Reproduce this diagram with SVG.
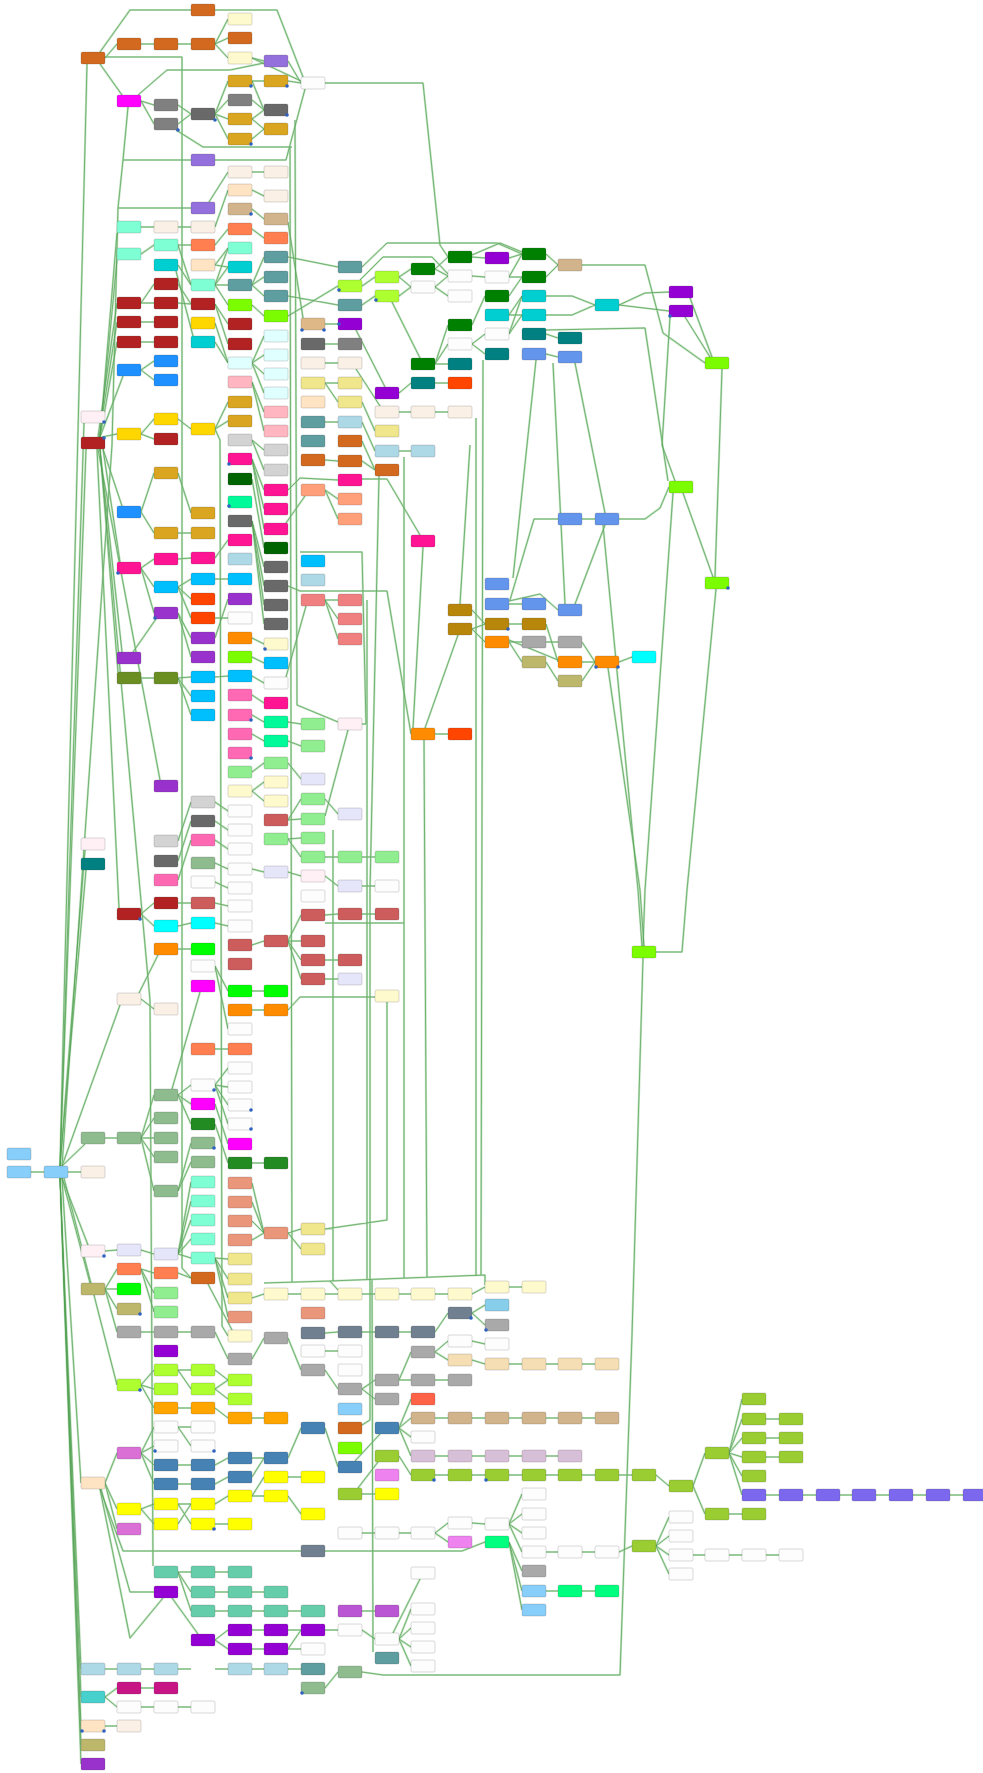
<svg xmlns="http://www.w3.org/2000/svg" xmlns:xlink="http://www.w3.org/1999/xlink" width="983" height="1773" viewBox="0 0 983 1773">
<style>
rect{rx:1.5px;ry:1.5px;stroke:#4a4a4a;stroke-opacity:.35;stroke-width:.6}
.or{fill:#d2691e}.ly{fill:#fffacd}.mp{fill:#9370db}.wh{fill:#fdfdfd}.mg{fill:#f0f}.gy{fill:#808080}.gr{fill:#daa520}.ln{fill:#faf0e6}.bq{fill:#ffe4c4}.tn{fill:#d2b48c}.aq{fill:#7fffd4}.co{fill:#ff7f50}.dt{fill:#00ced1}.cb{fill:#5f9ea0}.fb{fill:#b22222}.lg{fill:#7cfc00}.gd{fill:#ffd700}.bw{fill:#deb887}.dg{fill:#696969}.lc{fill:#e0ffff}.db{fill:#1e90ff}.pk{fill:#ffb6c1}.kh{fill:#f0e68c}.wt{fill:#f5deb3}.lb{fill:#fff0f5}.lgy{fill:#d3d3d3}.dp{fill:#ff1493}.dkg{fill:#006400}.ls{fill:#ffa07a}.sg{fill:#00fa9a}.lbl{fill:#add8e6}.ds{fill:#00bfff}.orr{fill:#ff4500}.do{fill:#9932cc}.lco{fill:#f08080}.dor{fill:#ff8c00}.od{fill:#6b8e23}.hp{fill:#ff69b4}.lgn{fill:#90ee90}.lv{fill:#e6e6fa}.ir{fill:#cd5c5c}.tl{fill:#008080}.dsg{fill:#8fbc8f}.cy{fill:#0ff}.li{fill:#0f0}.fg{fill:#228b22}.ds2{fill:#e9967a}.dkh{fill:#bdb76b}.dgy{fill:#a9a9a9}.slg{fill:#708090}.dv{fill:#9400d3}.gyl{fill:#adff2f}.ora{fill:#ffa500}.sb{fill:#4682b4}.orc{fill:#da70d6}.ye{fill:#ff0}.ma{fill:#66cdaa}.mvr{fill:#c71585}.mt{fill:#48d1cc}.gn{fill:#008000}.cf{fill:#6495ed}.dgr{fill:#b8860b}.tom{fill:#ff6347}.lsb{fill:#87cefa}.yg{fill:#9acd32}.th{fill:#d8bfd8}.vi{fill:#ee82ee}.spg{fill:#00ff7f}.mo{fill:#ba55d3}.msb{fill:#7b68ee}.skb{fill:#87ceeb}
.h{fill:none;stroke:#a6d6a6;stroke-width:2.2;stroke-opacity:.65;stroke-linejoin:round}
.c{fill:none;stroke:#4f9f4f;stroke-width:.8;stroke-opacity:.9;stroke-linejoin:round}
.d{fill:#2f62c0}
</style>
<defs>
<path id="E" d="M105 58L117 44 M141 44L154 44 M178 44L191 44 M215 44L228 19 M215 44L228 38 M215 44L228 58 M252 58L264 61 M288 61L301 83 M252 58L301 81 M215 10L277 10L303 77 M100 52L130 10L191 10 M105 57L182 57L182 1268L191 1278 M100 64L122 95 M141 101L154 105 M141 101L154 124 M178 105L191 114 M178 124L191 114 M176 130L203 147L292 147 M215 114L228 81 M215 114L228 100 M215 114L228 119 M215 114L228 139 M252 81L264 81 M252 100L264 110 M252 119L264 110 M252 119L264 129 M252 139L264 129 M252 81L264 110 M288 81L301 83 M138 95L167 70L230 70L264 63 M325 83L423 83L440 245L448 257 M215 160L286 160L305 89
M62 1166L112 445L118 208L123 160L128 107 M123 160L191 160 M118 208L191 208
M209 202L228 172 M215 227L228 190 M252 172L264 172 M252 190L264 196 M252 209L264 219 M141 227L154 227 M178 227L191 227 M141 254L154 245 M178 245L191 245 M215 245L228 229 M178 245L191 285 M178 265L191 285 M215 265L228 248 M215 265L228 267 M215 285L228 248 M215 285L228 267 M215 285L228 285 M215 285L228 305 M252 285L264 257 M252 285L264 277 M252 285L264 296 M252 305L264 316 M252 229L264 238 M141 303L154 284 M141 303L154 303 M178 303L191 304 M178 284L191 304 M215 304L228 324 M215 304L228 344 M141 322L154 322 M141 342L154 342 M215 323L228 363 M215 342L228 363 M252 363L264 336 M252 363L264 355 M252 363L264 374 M252 363L264 393 M141 370L154 361 M141 370L154 380 M252 382L264 412 M252 382L264 431 M215 429L228 402 M215 429L228 421 M141 434L154 419 M141 434L154 439 M178 419L191 429 M176 271L193 336 M288 222L303 318 M325 324L338 324
M100 437L123 376 M98 437L117 303 M99 437L117 322 M100 437L117 342 M102 437L117 434 M100 437L117 233 M100 437L117 260 M103 449L122 506 M103 449L120 562 M100 449L122 652 M100 449L118 672 M98 449L160 780 M97 449L119 908 M100 449L150 1000L153 1566
M141 512L154 473 M141 512L154 533 M178 533L191 533 M178 473L191 513 M141 568L154 559 M141 568L154 587 M141 568L154 613 M178 559L191 558 M178 587L191 579 M178 587L191 599 M178 587L191 618 M178 613L191 638 M178 613L191 657 M156 619L133 652 M215 558L228 540 M215 579L228 579 M141 678L154 678 M178 678L191 677 M178 678L191 696 M178 678L191 715 M252 715L264 722 M252 734L264 741 M252 772L264 763 M252 791L264 782 M252 791L264 801 M288 820L301 799 M288 820L301 819 M288 839L301 838 M288 839L301 857 M252 869L264 872 M288 872L301 876 M288 741L301 746 M288 722L301 724 M288 763L301 779 M252 695L264 703 M252 440L264 450 M252 440L264 470 M252 459L264 490 M252 459L264 509 M252 459L264 529 M252 479L264 548 M286 523L305 496 M252 521L264 567 M252 521L264 586 M252 521L264 605 M252 521L264 624 M252 638L264 644 M252 657L264 663 M252 676L264 683 M306 606L286 677 M215 638L228 599 M215 618L228 618 M215 677L228 676 M178 841L191 802 M178 861L191 821 M178 880L191 840 M215 802L228 811 M215 821L228 830 M215 840L228 849 M215 863L228 869 M215 882L228 888 M215 429L220 440L222 1326L228 1336
M325 460L338 461 M362 461L375 470 M362 441L375 470 M362 422L375 451 M399 451L411 451 M325 422L338 422 M325 490L338 499 M325 490L338 519 M288 490L300 478L338 480 M325 383L338 383 M325 383L338 402 M362 402L375 431 M325 363L338 363 M325 344L338 344 M288 257L338 267 M288 296L338 305 M288 316L338 286 M325 600L338 600 M325 600L338 619 M325 600L338 639
M362 267L387 243L497 243L522 254 M362 286L375 277 M360 280L383 257L432 257L448 274 M362 305L375 296 M399 277L411 269 M399 277L411 287 M399 296L411 287 M392 302L420 358 M435 269L448 276 M435 287L448 276 M435 287L448 296 M435 269L448 257 M472 257L485 258 M472 255L500 243L522 252 M509 258L522 254 M472 276L485 277 M509 277L522 277 M509 277L522 254 M546 254L558 265 M546 277L558 265 M472 325L485 296 M509 296L522 277 M509 315L522 296 M509 315L522 315 M509 334L522 296 M509 334L522 315 M546 296L572 296L595 305 M546 315L572 315L595 305 M619 305L645 293L669 292 M619 305L669 311 M690 298L712 357 M685 317L710 357 M670 317L662 445L675 481 M722 369L715 577 M683 493L713 577 M673 493L645 890L643 946 M716 589L687 890L682 952L656 952 M582 265L645 265L663 333L705 363 M472 344L485 334 M472 344L485 354 M435 364L448 325 M435 364L448 344 M435 364L448 364 M435 383L448 383 M399 393L411 383 M356 330L385 387 M399 412L411 412 M435 412L448 412 M356 369L380 406 M546 334L558 338 M546 354L558 357 M546 330L645 328L668 481 M536 360L527 445L513 578 M575 363L605 513 M553 363L565 604
M362 479L387 479L420 535 M379 476L370 890L370 1420L362 1425 M423 547L413 728 M435 734L448 734 M509 604L522 604 M509 601L540 594L558 610 M510 600L534 519L558 519 M582 519L595 519 M575 604L605 525 M619 519L645 519L660 508L669 487 M460 604L470 445 M425 728L458 635 M472 610L485 624 M472 629L485 624 M472 629L485 642 M509 624L522 624 M509 642L522 642 M546 642L558 642 M509 642L522 662 M509 640L558 660 M546 624L558 662 M546 662L558 681 M582 642L595 662 M582 662L595 662 M582 681L595 662 M619 662L632 657 M608 668L640 890L644 946 M603 525L638 890L642 946 M288 586L300 591L387 591L411 734 M300 552L362 552L366 724L362 724 M348 730L325 816
M141 914L154 903 M141 914L154 926 M178 903L191 903 M178 926L191 923 M215 903L228 906 M215 923L228 926 M252 945L264 941 M288 941L301 915 M288 941L301 941 M288 941L301 960 M288 941L301 979 M178 949L191 949 M141 999L154 1009 M139 993L158 955 M215 966L228 991 M215 966L228 1029 M252 991L264 991 M252 1010L264 1010 M215 1049L228 1049 M178 1095L191 1085 M178 1095L191 1104 M178 1095L191 1124 M172 1089L200 992 M215 1085L228 1068 M215 1085L228 1087 M215 1085L228 1105 M215 1085L228 1124 M215 1104L228 1144 M215 1124L228 1163 M252 1163L264 1163 M105 1138L117 1138 M141 1138L154 1095 M141 1138L154 1118 M141 1138L154 1138 M141 1138L154 1157 M141 1138L154 1191 M178 1191L191 1143 M178 1191L191 1162 M31 1172L44 1172 M68 1172L81 1172 M105 1251L117 1250 M141 1250L154 1254 M178 1254L191 1182 M178 1254L191 1201 M178 1254L191 1220 M178 1254L191 1239 M178 1254L191 1258 M215 1258L228 1259 M215 1258L228 1279 M215 1258L228 1298 M215 1258L228 1317 M252 1183L264 1233 M252 1202L264 1233 M252 1221L264 1233 M252 1240L264 1233 M288 1233L301 1229 M288 1233L301 1249 M105 1289L117 1269 M105 1289L117 1289 M105 1289L117 1309 M141 1269L154 1273 M141 1269L154 1293 M141 1269L154 1312 M178 1273L191 1278 M208 1284L232 1330 M288 1294L301 1294 M252 1298L264 1294 M325 1294L338 1294 M325 915L338 914 M362 914L375 914 M325 960L338 960 M325 979L338 979 M362 886L375 886 M325 876L338 886 M362 857L375 857 M325 857L338 857 M325 799L338 814 M288 1010L300 997L375 997 M387 1002L387 1220L325 1229 M325 923L404 923
M60 1166L87 64 M60 1166L84 423 M60 1166L86 449 M60 1166L85 850 M60 1166L86 870 M62 1166L85 1144 M62 1166L120 1005 M62 1178L88 1245 M62 1178L90 1283 M62 1178L81 1483 M60 1178L81 1669 M60 1178L81 1697 M60 1178L81 1726 M60 1178L81 1745 M60 1178L81 1764 M64 1178L117 1385
M141 1385L154 1370 M141 1385L154 1389 M141 1385L154 1408 M178 1370L191 1370 M178 1370L191 1389 M215 1370L228 1380 M215 1389L228 1380 M215 1389L228 1399 M178 1408L191 1408 M215 1408L228 1418 M252 1418L264 1418 M105 1483L117 1453 M105 1483L117 1509 M105 1483L117 1529 M100 1489L123 1551L301 1551 M101 1489L130 1592L154 1592 M100 1489L130 1638L163 1598 M141 1453L154 1427 M141 1453L154 1446 M141 1453L154 1465 M141 1453L154 1484 M178 1427L191 1427 M178 1427L191 1446 M178 1465L191 1465 M178 1484L191 1484 M215 1465L228 1458 M252 1458L264 1458 M288 1458L301 1428 M215 1484L228 1477 M252 1477L264 1458 M252 1496L264 1477 M288 1477L301 1477 M252 1496L264 1496 M288 1496L301 1514 M141 1509L154 1504 M141 1509L154 1524 M178 1504L191 1504 M178 1504L191 1524 M178 1524L191 1504 M215 1504L228 1496 M215 1524L228 1524 M178 1572L191 1572 M215 1572L228 1572 M178 1572L191 1592 M215 1592L228 1592 M252 1592L264 1592 M178 1572L191 1611 M215 1611L228 1611 M252 1611L264 1611 M288 1611L301 1611 M172 1598L198 1634 M215 1640L228 1630 M215 1640L228 1649 M252 1630L264 1630 M288 1630L301 1630 M252 1649L264 1649 M288 1649L301 1630 M288 1649L301 1649 M105 1669L117 1669 M141 1669L154 1669 M178 1669L191 1669 M215 1669L228 1669 M252 1669L264 1669 M288 1669L301 1669 M325 1688L338 1672 M105 1697L117 1688 M141 1688L154 1688 M105 1697L117 1707 M141 1707L154 1707 M178 1707L191 1707 M105 1726L117 1726 M141 1332L154 1332 M178 1332L191 1332 M215 1332L228 1359 M252 1359L264 1338 M288 1338L301 1370 M325 1333L338 1332 M325 1351L338 1351 M325 1370L338 1389 M105 1289L117 1332 M325 1428L338 1467 M325 1630L338 1630
M362 1294L375 1294 M399 1294L411 1294 M435 1294L448 1294 M472 1294L485 1287 M509 1287L522 1287 M472 1313L485 1305 M472 1313L485 1325 M362 1332L375 1332 M399 1332L411 1332 M435 1332L448 1313 M435 1352L448 1341 M435 1352L448 1360 M472 1341L485 1344 M472 1360L485 1364 M509 1364L522 1364 M546 1364L558 1364 M582 1364L595 1364 M399 1380L411 1352 M362 1389L375 1380 M362 1389L375 1399 M435 1380L448 1380 M399 1380L411 1380 M399 1428L411 1399 M399 1428L411 1418 M399 1428L411 1437 M399 1428L411 1456 M435 1418L448 1418 M472 1418L485 1418 M509 1418L522 1418 M546 1418L558 1418 M582 1418L595 1418 M435 1456L448 1456 M472 1456L485 1456 M509 1456L522 1456 M546 1456L558 1456 M399 1456L411 1475 M435 1475L448 1475 M472 1475L485 1475 M509 1475L522 1475 M546 1475L558 1475 M582 1475L595 1475 M619 1475L632 1475 M656 1475L669 1486 M355 1461L380 1434 M362 1494L375 1494 M358 1488L378 1462 M362 1533L375 1533 M399 1533L411 1533 M435 1533L448 1523 M435 1533L448 1542 M472 1523L485 1524 M509 1524L522 1494 M509 1524L522 1514 M509 1524L522 1533 M509 1524L522 1552 M509 1542L522 1571 M509 1542L522 1591 M509 1542L522 1610 M546 1552L558 1552 M582 1552L595 1552 M619 1552L632 1546 M656 1546L669 1517 M656 1546L669 1536 M656 1546L669 1555 M656 1546L669 1574 M693 1555L705 1555 M729 1555L742 1555 M766 1555L779 1555 M546 1591L558 1591 M582 1591L595 1591 M362 1611L375 1611 M362 1630L375 1639 M393 1633L420 1579 M399 1639L411 1609 M399 1639L411 1628 M399 1639L411 1647 M399 1639L411 1666 M362 1672L383 1675L620 1675L632 1335L643 958 M325 1551L462 1551L485 1542 M372 1280L373 1652
M693 1486L705 1453 M693 1486L705 1514 M729 1453L742 1399 M729 1453L742 1419 M729 1453L742 1438 M729 1453L742 1457 M729 1453L742 1476 M729 1453L742 1495 M766 1419L779 1419 M766 1438L779 1438 M766 1457L779 1457 M766 1495L779 1495 M803 1495L816 1495 M840 1495L852 1495 M876 1495L889 1495 M913 1495L926 1495 M950 1495L963 1495 M729 1514L742 1514
M264 1283L330 1281L338 1290 M330 1281L485 1275L485 1285 M333 1281L333 830 M367 1279L367 600 M404 1278L404 457 M427 1277L424 740 M476 1276L476 418 M481 1275L483 360 M290 147L292 1282 M295 120L297 705L338 722"/>
</defs>
<g id="connectors">
<use xlink:href="#E" href="#E" class="h"/>
<use xlink:href="#E" href="#E" class="c"/>
</g>
<g id="nodes">
<g id="n0_1148"><rect class="lsb" x="7" y="1148" width="24" height="12"/></g>
<g id="n0_1166"><rect class="lsb" x="7" y="1166" width="24" height="12"/></g>
<g id="n1_1166"><rect class="lsb" x="44" y="1166" width="24" height="12"/></g>
<g id="n2_52"><rect class="or" x="81" y="52" width="24" height="12"/></g>
<g id="n2_411"><rect class="lb" x="81" y="411" width="24" height="12"/></g>
<g id="n2_437"><rect class="fb" x="81" y="437" width="24" height="12"/></g>
<g id="n2_838"><rect class="lb" x="81" y="838" width="24" height="12"/></g>
<g id="n2_858"><rect class="tl" x="81" y="858" width="24" height="12"/></g>
<g id="n2_1132"><rect class="dsg" x="81" y="1132" width="24" height="12"/></g>
<g id="n2_1166"><rect class="ln" x="81" y="1166" width="24" height="12"/></g>
<g id="n2_1245"><rect class="lb" x="81" y="1245" width="24" height="12"/></g>
<g id="n2_1283"><rect class="dkh" x="81" y="1283" width="24" height="12"/></g>
<g id="n2_1477"><rect class="bq" x="81" y="1477" width="24" height="12"/></g>
<g id="n2_1663"><rect class="lbl" x="81" y="1663" width="24" height="12"/></g>
<g id="n2_1691"><rect class="mt" x="81" y="1691" width="24" height="12"/></g>
<g id="n2_1720"><rect class="bq" x="81" y="1720" width="24" height="12"/></g>
<g id="n2_1739"><rect class="dkh" x="81" y="1739" width="24" height="12"/></g>
<g id="n2_1758"><rect class="do" x="81" y="1758" width="24" height="12"/></g>
<g id="n3_38"><rect class="or" x="117" y="38" width="24" height="12"/></g>
<g id="n3_95"><rect class="mg" x="117" y="95" width="24" height="12"/></g>
<g id="n3_221"><rect class="aq" x="117" y="221" width="24" height="12"/></g>
<g id="n3_248"><rect class="aq" x="117" y="248" width="24" height="12"/></g>
<g id="n3_297"><rect class="fb" x="117" y="297" width="24" height="12"/></g>
<g id="n3_316"><rect class="fb" x="117" y="316" width="24" height="12"/></g>
<g id="n3_336"><rect class="fb" x="117" y="336" width="24" height="12"/></g>
<g id="n3_364"><rect class="db" x="117" y="364" width="24" height="12"/></g>
<g id="n3_428"><rect class="gd" x="117" y="428" width="24" height="12"/></g>
<g id="n3_506"><rect class="db" x="117" y="506" width="24" height="12"/></g>
<g id="n3_562"><rect class="dp" x="117" y="562" width="24" height="12"/></g>
<g id="n3_652"><rect class="do" x="117" y="652" width="24" height="12"/></g>
<g id="n3_672"><rect class="od" x="117" y="672" width="24" height="12"/></g>
<g id="n3_908"><rect class="fb" x="117" y="908" width="24" height="12"/></g>
<g id="n3_993"><rect class="ln" x="117" y="993" width="24" height="12"/></g>
<g id="n3_1132"><rect class="dsg" x="117" y="1132" width="24" height="12"/></g>
<g id="n3_1244"><rect class="lv" x="117" y="1244" width="24" height="12"/></g>
<g id="n3_1263"><rect class="co" x="117" y="1263" width="24" height="12"/></g>
<g id="n3_1283"><rect class="li" x="117" y="1283" width="24" height="12"/></g>
<g id="n3_1303"><rect class="dkh" x="117" y="1303" width="24" height="12"/></g>
<g id="n3_1326"><rect class="dgy" x="117" y="1326" width="24" height="12"/></g>
<g id="n3_1379"><rect class="gyl" x="117" y="1379" width="24" height="12"/></g>
<g id="n3_1447"><rect class="orc" x="117" y="1447" width="24" height="12"/></g>
<g id="n3_1503"><rect class="ye" x="117" y="1503" width="24" height="12"/></g>
<g id="n3_1523"><rect class="orc" x="117" y="1523" width="24" height="12"/></g>
<g id="n3_1663"><rect class="lbl" x="117" y="1663" width="24" height="12"/></g>
<g id="n3_1682"><rect class="mvr" x="117" y="1682" width="24" height="12"/></g>
<g id="n3_1701"><rect class="wh" x="117" y="1701" width="24" height="12"/></g>
<g id="n3_1720"><rect class="ln" x="117" y="1720" width="24" height="12"/></g>
<g id="n4_38"><rect class="or" x="154" y="38" width="24" height="12"/></g>
<g id="n4_99"><rect class="gy" x="154" y="99" width="24" height="12"/></g>
<g id="n4_118"><rect class="gy" x="154" y="118" width="24" height="12"/></g>
<g id="n4_221"><rect class="ln" x="154" y="221" width="24" height="12"/></g>
<g id="n4_239"><rect class="aq" x="154" y="239" width="24" height="12"/></g>
<g id="n4_259"><rect class="dt" x="154" y="259" width="24" height="12"/></g>
<g id="n4_278"><rect class="fb" x="154" y="278" width="24" height="12"/></g>
<g id="n4_297"><rect class="fb" x="154" y="297" width="24" height="12"/></g>
<g id="n4_316"><rect class="fb" x="154" y="316" width="24" height="12"/></g>
<g id="n4_336"><rect class="fb" x="154" y="336" width="24" height="12"/></g>
<g id="n4_355"><rect class="db" x="154" y="355" width="24" height="12"/></g>
<g id="n4_374"><rect class="db" x="154" y="374" width="24" height="12"/></g>
<g id="n4_413"><rect class="gd" x="154" y="413" width="24" height="12"/></g>
<g id="n4_433"><rect class="fb" x="154" y="433" width="24" height="12"/></g>
<g id="n4_467"><rect class="gr" x="154" y="467" width="24" height="12"/></g>
<g id="n4_527"><rect class="gr" x="154" y="527" width="24" height="12"/></g>
<g id="n4_553"><rect class="dp" x="154" y="553" width="24" height="12"/></g>
<g id="n4_581"><rect class="ds" x="154" y="581" width="24" height="12"/></g>
<g id="n4_607"><rect class="do" x="154" y="607" width="24" height="12"/></g>
<g id="n4_672"><rect class="od" x="154" y="672" width="24" height="12"/></g>
<g id="n4_780"><rect class="do" x="154" y="780" width="24" height="12"/></g>
<g id="n4_835"><rect class="lgy" x="154" y="835" width="24" height="12"/></g>
<g id="n4_855"><rect class="dg" x="154" y="855" width="24" height="12"/></g>
<g id="n4_874"><rect class="hp" x="154" y="874" width="24" height="12"/></g>
<g id="n4_897"><rect class="fb" x="154" y="897" width="24" height="12"/></g>
<g id="n4_920"><rect class="cy" x="154" y="920" width="24" height="12"/></g>
<g id="n4_943"><rect class="dor" x="154" y="943" width="24" height="12"/></g>
<g id="n4_1003"><rect class="ln" x="154" y="1003" width="24" height="12"/></g>
<g id="n4_1089"><rect class="dsg" x="154" y="1089" width="24" height="12"/></g>
<g id="n4_1112"><rect class="dsg" x="154" y="1112" width="24" height="12"/></g>
<g id="n4_1132"><rect class="dsg" x="154" y="1132" width="24" height="12"/></g>
<g id="n4_1151"><rect class="dsg" x="154" y="1151" width="24" height="12"/></g>
<g id="n4_1185"><rect class="dsg" x="154" y="1185" width="24" height="12"/></g>
<g id="n4_1248"><rect class="lv" x="154" y="1248" width="24" height="12"/></g>
<g id="n4_1267"><rect class="co" x="154" y="1267" width="24" height="12"/></g>
<g id="n4_1287"><rect class="lgn" x="154" y="1287" width="24" height="12"/></g>
<g id="n4_1306"><rect class="lgn" x="154" y="1306" width="24" height="12"/></g>
<g id="n4_1326"><rect class="dgy" x="154" y="1326" width="24" height="12"/></g>
<g id="n4_1345"><rect class="dv" x="154" y="1345" width="24" height="12"/></g>
<g id="n4_1364"><rect class="gyl" x="154" y="1364" width="24" height="12"/></g>
<g id="n4_1383"><rect class="gyl" x="154" y="1383" width="24" height="12"/></g>
<g id="n4_1402"><rect class="ora" x="154" y="1402" width="24" height="12"/></g>
<g id="n4_1421"><rect class="wh" x="154" y="1421" width="24" height="12"/></g>
<g id="n4_1440"><rect class="wh" x="154" y="1440" width="24" height="12"/></g>
<g id="n4_1459"><rect class="sb" x="154" y="1459" width="24" height="12"/></g>
<g id="n4_1478"><rect class="sb" x="154" y="1478" width="24" height="12"/></g>
<g id="n4_1498"><rect class="ye" x="154" y="1498" width="24" height="12"/></g>
<g id="n4_1518"><rect class="ye" x="154" y="1518" width="24" height="12"/></g>
<g id="n4_1566"><rect class="ma" x="154" y="1566" width="24" height="12"/></g>
<g id="n4_1586"><rect class="dv" x="154" y="1586" width="24" height="12"/></g>
<g id="n4_1663"><rect class="lbl" x="154" y="1663" width="24" height="12"/></g>
<g id="n4_1682"><rect class="mvr" x="154" y="1682" width="24" height="12"/></g>
<g id="n4_1701"><rect class="wh" x="154" y="1701" width="24" height="12"/></g>
<g id="n5_4"><rect class="or" x="191" y="4" width="24" height="12"/></g>
<g id="n5_38"><rect class="or" x="191" y="38" width="24" height="12"/></g>
<g id="n5_108"><rect class="dg" x="191" y="108" width="24" height="12"/></g>
<g id="n5_154"><rect class="mp" x="191" y="154" width="24" height="12"/></g>
<g id="n5_202"><rect class="mp" x="191" y="202" width="24" height="12"/></g>
<g id="n5_221"><rect class="ln" x="191" y="221" width="24" height="12"/></g>
<g id="n5_239"><rect class="co" x="191" y="239" width="24" height="12"/></g>
<g id="n5_259"><rect class="bq" x="191" y="259" width="24" height="12"/></g>
<g id="n5_279"><rect class="aq" x="191" y="279" width="24" height="12"/></g>
<g id="n5_298"><rect class="fb" x="191" y="298" width="24" height="12"/></g>
<g id="n5_317"><rect class="gd" x="191" y="317" width="24" height="12"/></g>
<g id="n5_336"><rect class="dt" x="191" y="336" width="24" height="12"/></g>
<g id="n5_423"><rect class="gd" x="191" y="423" width="24" height="12"/></g>
<g id="n5_507"><rect class="gr" x="191" y="507" width="24" height="12"/></g>
<g id="n5_527"><rect class="gr" x="191" y="527" width="24" height="12"/></g>
<g id="n5_552"><rect class="dp" x="191" y="552" width="24" height="12"/></g>
<g id="n5_573"><rect class="ds" x="191" y="573" width="24" height="12"/></g>
<g id="n5_593"><rect class="orr" x="191" y="593" width="24" height="12"/></g>
<g id="n5_612"><rect class="orr" x="191" y="612" width="24" height="12"/></g>
<g id="n5_632"><rect class="do" x="191" y="632" width="24" height="12"/></g>
<g id="n5_651"><rect class="do" x="191" y="651" width="24" height="12"/></g>
<g id="n5_671"><rect class="ds" x="191" y="671" width="24" height="12"/></g>
<g id="n5_690"><rect class="ds" x="191" y="690" width="24" height="12"/></g>
<g id="n5_709"><rect class="ds" x="191" y="709" width="24" height="12"/></g>
<g id="n5_796"><rect class="lgy" x="191" y="796" width="24" height="12"/></g>
<g id="n5_815"><rect class="dg" x="191" y="815" width="24" height="12"/></g>
<g id="n5_834"><rect class="hp" x="191" y="834" width="24" height="12"/></g>
<g id="n5_857"><rect class="dsg" x="191" y="857" width="24" height="12"/></g>
<g id="n5_876"><rect class="wh" x="191" y="876" width="24" height="12"/></g>
<g id="n5_897"><rect class="ir" x="191" y="897" width="24" height="12"/></g>
<g id="n5_917"><rect class="cy" x="191" y="917" width="24" height="12"/></g>
<g id="n5_943"><rect class="li" x="191" y="943" width="24" height="12"/></g>
<g id="n5_960"><rect class="wh" x="191" y="960" width="24" height="12"/></g>
<g id="n5_980"><rect class="mg" x="191" y="980" width="24" height="12"/></g>
<g id="n5_1043"><rect class="co" x="191" y="1043" width="24" height="12"/></g>
<g id="n5_1079"><rect class="wh" x="191" y="1079" width="24" height="12"/></g>
<g id="n5_1098"><rect class="mg" x="191" y="1098" width="24" height="12"/></g>
<g id="n5_1118"><rect class="fg" x="191" y="1118" width="24" height="12"/></g>
<g id="n5_1137"><rect class="dsg" x="191" y="1137" width="24" height="12"/></g>
<g id="n5_1156"><rect class="dsg" x="191" y="1156" width="24" height="12"/></g>
<g id="n5_1176"><rect class="aq" x="191" y="1176" width="24" height="12"/></g>
<g id="n5_1195"><rect class="aq" x="191" y="1195" width="24" height="12"/></g>
<g id="n5_1214"><rect class="aq" x="191" y="1214" width="24" height="12"/></g>
<g id="n5_1233"><rect class="aq" x="191" y="1233" width="24" height="12"/></g>
<g id="n5_1252"><rect class="aq" x="191" y="1252" width="24" height="12"/></g>
<g id="n5_1272"><rect class="or" x="191" y="1272" width="24" height="12"/></g>
<g id="n5_1326"><rect class="dgy" x="191" y="1326" width="24" height="12"/></g>
<g id="n5_1364"><rect class="gyl" x="191" y="1364" width="24" height="12"/></g>
<g id="n5_1383"><rect class="gyl" x="191" y="1383" width="24" height="12"/></g>
<g id="n5_1402"><rect class="ora" x="191" y="1402" width="24" height="12"/></g>
<g id="n5_1421"><rect class="wh" x="191" y="1421" width="24" height="12"/></g>
<g id="n5_1440"><rect class="wh" x="191" y="1440" width="24" height="12"/></g>
<g id="n5_1459"><rect class="sb" x="191" y="1459" width="24" height="12"/></g>
<g id="n5_1478"><rect class="sb" x="191" y="1478" width="24" height="12"/></g>
<g id="n5_1498"><rect class="ye" x="191" y="1498" width="24" height="12"/></g>
<g id="n5_1518"><rect class="ye" x="191" y="1518" width="24" height="12"/></g>
<g id="n5_1566"><rect class="ma" x="191" y="1566" width="24" height="12"/></g>
<g id="n5_1586"><rect class="ma" x="191" y="1586" width="24" height="12"/></g>
<g id="n5_1605"><rect class="ma" x="191" y="1605" width="24" height="12"/></g>
<g id="n5_1634"><rect class="dv" x="191" y="1634" width="24" height="12"/></g>
<g id="n5_1701"><rect class="wh" x="191" y="1701" width="24" height="12"/></g>
<g id="n6_13"><rect class="ly" x="228" y="13" width="24" height="12"/></g>
<g id="n6_32"><rect class="or" x="228" y="32" width="24" height="12"/></g>
<g id="n6_52"><rect class="ly" x="228" y="52" width="24" height="12"/></g>
<g id="n6_75"><rect class="gr" x="228" y="75" width="24" height="12"/></g>
<g id="n6_94"><rect class="gy" x="228" y="94" width="24" height="12"/></g>
<g id="n6_113"><rect class="gr" x="228" y="113" width="24" height="12"/></g>
<g id="n6_133"><rect class="gr" x="228" y="133" width="24" height="12"/></g>
<g id="n6_166"><rect class="ln" x="228" y="166" width="24" height="12"/></g>
<g id="n6_184"><rect class="bq" x="228" y="184" width="24" height="12"/></g>
<g id="n6_203"><rect class="tn" x="228" y="203" width="24" height="12"/></g>
<g id="n6_223"><rect class="co" x="228" y="223" width="24" height="12"/></g>
<g id="n6_242"><rect class="aq" x="228" y="242" width="24" height="12"/></g>
<g id="n6_261"><rect class="dt" x="228" y="261" width="24" height="12"/></g>
<g id="n6_279"><rect class="cb" x="228" y="279" width="24" height="12"/></g>
<g id="n6_299"><rect class="lg" x="228" y="299" width="24" height="12"/></g>
<g id="n6_318"><rect class="fb" x="228" y="318" width="24" height="12"/></g>
<g id="n6_338"><rect class="fb" x="228" y="338" width="24" height="12"/></g>
<g id="n6_357"><rect class="lc" x="228" y="357" width="24" height="12"/></g>
<g id="n6_376"><rect class="pk" x="228" y="376" width="24" height="12"/></g>
<g id="n6_396"><rect class="gr" x="228" y="396" width="24" height="12"/></g>
<g id="n6_415"><rect class="gr" x="228" y="415" width="24" height="12"/></g>
<g id="n6_434"><rect class="lgy" x="228" y="434" width="24" height="12"/></g>
<g id="n6_453"><rect class="dp" x="228" y="453" width="24" height="12"/></g>
<g id="n6_473"><rect class="dkg" x="228" y="473" width="24" height="12"/></g>
<g id="n6_496"><rect class="sg" x="228" y="496" width="24" height="12"/></g>
<g id="n6_515"><rect class="dg" x="228" y="515" width="24" height="12"/></g>
<g id="n6_534"><rect class="dp" x="228" y="534" width="24" height="12"/></g>
<g id="n6_553"><rect class="lbl" x="228" y="553" width="24" height="12"/></g>
<g id="n6_573"><rect class="ds" x="228" y="573" width="24" height="12"/></g>
<g id="n6_593"><rect class="do" x="228" y="593" width="24" height="12"/></g>
<g id="n6_612"><rect class="wh" x="228" y="612" width="24" height="12"/></g>
<g id="n6_632"><rect class="dor" x="228" y="632" width="24" height="12"/></g>
<g id="n6_651"><rect class="lg" x="228" y="651" width="24" height="12"/></g>
<g id="n6_670"><rect class="ds" x="228" y="670" width="24" height="12"/></g>
<g id="n6_689"><rect class="hp" x="228" y="689" width="24" height="12"/></g>
<g id="n6_709"><rect class="hp" x="228" y="709" width="24" height="12"/></g>
<g id="n6_728"><rect class="hp" x="228" y="728" width="24" height="12"/></g>
<g id="n6_747"><rect class="hp" x="228" y="747" width="24" height="12"/></g>
<g id="n6_766"><rect class="lgn" x="228" y="766" width="24" height="12"/></g>
<g id="n6_785"><rect class="ly" x="228" y="785" width="24" height="12"/></g>
<g id="n6_805"><rect class="wh" x="228" y="805" width="24" height="12"/></g>
<g id="n6_824"><rect class="wh" x="228" y="824" width="24" height="12"/></g>
<g id="n6_843"><rect class="wh" x="228" y="843" width="24" height="12"/></g>
<g id="n6_863"><rect class="wh" x="228" y="863" width="24" height="12"/></g>
<g id="n6_882"><rect class="wh" x="228" y="882" width="24" height="12"/></g>
<g id="n6_900"><rect class="wh" x="228" y="900" width="24" height="12"/></g>
<g id="n6_920"><rect class="wh" x="228" y="920" width="24" height="12"/></g>
<g id="n6_939"><rect class="ir" x="228" y="939" width="24" height="12"/></g>
<g id="n6_958"><rect class="ir" x="228" y="958" width="24" height="12"/></g>
<g id="n6_985"><rect class="li" x="228" y="985" width="24" height="12"/></g>
<g id="n6_1004"><rect class="dor" x="228" y="1004" width="24" height="12"/></g>
<g id="n6_1023"><rect class="wh" x="228" y="1023" width="24" height="12"/></g>
<g id="n6_1043"><rect class="co" x="228" y="1043" width="24" height="12"/></g>
<g id="n6_1062"><rect class="wh" x="228" y="1062" width="24" height="12"/></g>
<g id="n6_1081"><rect class="wh" x="228" y="1081" width="24" height="12"/></g>
<g id="n6_1099"><rect class="wh" x="228" y="1099" width="24" height="12"/></g>
<g id="n6_1118"><rect class="wh" x="228" y="1118" width="24" height="12"/></g>
<g id="n6_1138"><rect class="mg" x="228" y="1138" width="24" height="12"/></g>
<g id="n6_1157"><rect class="fg" x="228" y="1157" width="24" height="12"/></g>
<g id="n6_1177"><rect class="ds2" x="228" y="1177" width="24" height="12"/></g>
<g id="n6_1196"><rect class="ds2" x="228" y="1196" width="24" height="12"/></g>
<g id="n6_1215"><rect class="ds2" x="228" y="1215" width="24" height="12"/></g>
<g id="n6_1234"><rect class="ds2" x="228" y="1234" width="24" height="12"/></g>
<g id="n6_1253"><rect class="kh" x="228" y="1253" width="24" height="12"/></g>
<g id="n6_1273"><rect class="kh" x="228" y="1273" width="24" height="12"/></g>
<g id="n6_1292"><rect class="kh" x="228" y="1292" width="24" height="12"/></g>
<g id="n6_1311"><rect class="ds2" x="228" y="1311" width="24" height="12"/></g>
<g id="n6_1330"><rect class="ly" x="228" y="1330" width="24" height="12"/></g>
<g id="n6_1353"><rect class="dgy" x="228" y="1353" width="24" height="12"/></g>
<g id="n6_1374"><rect class="gyl" x="228" y="1374" width="24" height="12"/></g>
<g id="n6_1393"><rect class="gyl" x="228" y="1393" width="24" height="12"/></g>
<g id="n6_1412"><rect class="ora" x="228" y="1412" width="24" height="12"/></g>
<g id="n6_1452"><rect class="sb" x="228" y="1452" width="24" height="12"/></g>
<g id="n6_1471"><rect class="sb" x="228" y="1471" width="24" height="12"/></g>
<g id="n6_1490"><rect class="ye" x="228" y="1490" width="24" height="12"/></g>
<g id="n6_1518"><rect class="ye" x="228" y="1518" width="24" height="12"/></g>
<g id="n6_1566"><rect class="ma" x="228" y="1566" width="24" height="12"/></g>
<g id="n6_1586"><rect class="ma" x="228" y="1586" width="24" height="12"/></g>
<g id="n6_1605"><rect class="ma" x="228" y="1605" width="24" height="12"/></g>
<g id="n6_1624"><rect class="dv" x="228" y="1624" width="24" height="12"/></g>
<g id="n6_1643"><rect class="dv" x="228" y="1643" width="24" height="12"/></g>
<g id="n6_1663"><rect class="lbl" x="228" y="1663" width="24" height="12"/></g>
<g id="n7_55"><rect class="mp" x="264" y="55" width="24" height="12"/></g>
<g id="n7_75"><rect class="gr" x="264" y="75" width="24" height="12"/></g>
<g id="n7_104"><rect class="dg" x="264" y="104" width="24" height="12"/></g>
<g id="n7_123"><rect class="gr" x="264" y="123" width="24" height="12"/></g>
<g id="n7_166"><rect class="ln" x="264" y="166" width="24" height="12"/></g>
<g id="n7_190"><rect class="ln" x="264" y="190" width="24" height="12"/></g>
<g id="n7_213"><rect class="tn" x="264" y="213" width="24" height="12"/></g>
<g id="n7_232"><rect class="co" x="264" y="232" width="24" height="12"/></g>
<g id="n7_251"><rect class="cb" x="264" y="251" width="24" height="12"/></g>
<g id="n7_271"><rect class="cb" x="264" y="271" width="24" height="12"/></g>
<g id="n7_290"><rect class="cb" x="264" y="290" width="24" height="12"/></g>
<g id="n7_310"><rect class="lg" x="264" y="310" width="24" height="12"/></g>
<g id="n7_330"><rect class="lc" x="264" y="330" width="24" height="12"/></g>
<g id="n7_349"><rect class="lc" x="264" y="349" width="24" height="12"/></g>
<g id="n7_368"><rect class="lc" x="264" y="368" width="24" height="12"/></g>
<g id="n7_387"><rect class="lc" x="264" y="387" width="24" height="12"/></g>
<g id="n7_406"><rect class="pk" x="264" y="406" width="24" height="12"/></g>
<g id="n7_425"><rect class="pk" x="264" y="425" width="24" height="12"/></g>
<g id="n7_444"><rect class="lgy" x="264" y="444" width="24" height="12"/></g>
<g id="n7_464"><rect class="lgy" x="264" y="464" width="24" height="12"/></g>
<g id="n7_484"><rect class="dp" x="264" y="484" width="24" height="12"/></g>
<g id="n7_503"><rect class="dp" x="264" y="503" width="24" height="12"/></g>
<g id="n7_523"><rect class="dp" x="264" y="523" width="24" height="12"/></g>
<g id="n7_542"><rect class="dkg" x="264" y="542" width="24" height="12"/></g>
<g id="n7_561"><rect class="dg" x="264" y="561" width="24" height="12"/></g>
<g id="n7_580"><rect class="dg" x="264" y="580" width="24" height="12"/></g>
<g id="n7_599"><rect class="dg" x="264" y="599" width="24" height="12"/></g>
<g id="n7_618"><rect class="dg" x="264" y="618" width="24" height="12"/></g>
<g id="n7_638"><rect class="ly" x="264" y="638" width="24" height="12"/></g>
<g id="n7_657"><rect class="ds" x="264" y="657" width="24" height="12"/></g>
<g id="n7_677"><rect class="wh" x="264" y="677" width="24" height="12"/></g>
<g id="n7_697"><rect class="dp" x="264" y="697" width="24" height="12"/></g>
<g id="n7_716"><rect class="sg" x="264" y="716" width="24" height="12"/></g>
<g id="n7_735"><rect class="sg" x="264" y="735" width="24" height="12"/></g>
<g id="n7_757"><rect class="lgn" x="264" y="757" width="24" height="12"/></g>
<g id="n7_776"><rect class="ly" x="264" y="776" width="24" height="12"/></g>
<g id="n7_795"><rect class="ly" x="264" y="795" width="24" height="12"/></g>
<g id="n7_814"><rect class="ir" x="264" y="814" width="24" height="12"/></g>
<g id="n7_833"><rect class="lgn" x="264" y="833" width="24" height="12"/></g>
<g id="n7_866"><rect class="lv" x="264" y="866" width="24" height="12"/></g>
<g id="n7_935"><rect class="ir" x="264" y="935" width="24" height="12"/></g>
<g id="n7_985"><rect class="li" x="264" y="985" width="24" height="12"/></g>
<g id="n7_1004"><rect class="dor" x="264" y="1004" width="24" height="12"/></g>
<g id="n7_1157"><rect class="fg" x="264" y="1157" width="24" height="12"/></g>
<g id="n7_1227"><rect class="ds2" x="264" y="1227" width="24" height="12"/></g>
<g id="n7_1288"><rect class="ly" x="264" y="1288" width="24" height="12"/></g>
<g id="n7_1332"><rect class="dgy" x="264" y="1332" width="24" height="12"/></g>
<g id="n7_1412"><rect class="ora" x="264" y="1412" width="24" height="12"/></g>
<g id="n7_1452"><rect class="sb" x="264" y="1452" width="24" height="12"/></g>
<g id="n7_1471"><rect class="ye" x="264" y="1471" width="24" height="12"/></g>
<g id="n7_1490"><rect class="ye" x="264" y="1490" width="24" height="12"/></g>
<g id="n7_1586"><rect class="ma" x="264" y="1586" width="24" height="12"/></g>
<g id="n7_1605"><rect class="ma" x="264" y="1605" width="24" height="12"/></g>
<g id="n7_1624"><rect class="dv" x="264" y="1624" width="24" height="12"/></g>
<g id="n7_1643"><rect class="dv" x="264" y="1643" width="24" height="12"/></g>
<g id="n7_1663"><rect class="lbl" x="264" y="1663" width="24" height="12"/></g>
<g id="n8_77"><rect class="wh" x="301" y="77" width="24" height="12"/></g>
<g id="n8_318"><rect class="bw" x="301" y="318" width="24" height="12"/></g>
<g id="n8_338"><rect class="dg" x="301" y="338" width="24" height="12"/></g>
<g id="n8_357"><rect class="ln" x="301" y="357" width="24" height="12"/></g>
<g id="n8_377"><rect class="kh" x="301" y="377" width="24" height="12"/></g>
<g id="n8_396"><rect class="bq" x="301" y="396" width="24" height="12"/></g>
<g id="n8_416"><rect class="cb" x="301" y="416" width="24" height="12"/></g>
<g id="n8_435"><rect class="cb" x="301" y="435" width="24" height="12"/></g>
<g id="n8_454"><rect class="or" x="301" y="454" width="24" height="12"/></g>
<g id="n8_484"><rect class="ls" x="301" y="484" width="24" height="12"/></g>
<g id="n8_555"><rect class="ds" x="301" y="555" width="24" height="12"/></g>
<g id="n8_574"><rect class="lbl" x="301" y="574" width="24" height="12"/></g>
<g id="n8_594"><rect class="lco" x="301" y="594" width="24" height="12"/></g>
<g id="n8_718"><rect class="lgn" x="301" y="718" width="24" height="12"/></g>
<g id="n8_740"><rect class="lgn" x="301" y="740" width="24" height="12"/></g>
<g id="n8_773"><rect class="lv" x="301" y="773" width="24" height="12"/></g>
<g id="n8_793"><rect class="lgn" x="301" y="793" width="24" height="12"/></g>
<g id="n8_813"><rect class="lgn" x="301" y="813" width="24" height="12"/></g>
<g id="n8_832"><rect class="lgn" x="301" y="832" width="24" height="12"/></g>
<g id="n8_851"><rect class="lgn" x="301" y="851" width="24" height="12"/></g>
<g id="n8_870"><rect class="lb" x="301" y="870" width="24" height="12"/></g>
<g id="n8_890"><rect class="wh" x="301" y="890" width="24" height="12"/></g>
<g id="n8_909"><rect class="ir" x="301" y="909" width="24" height="12"/></g>
<g id="n8_935"><rect class="ir" x="301" y="935" width="24" height="12"/></g>
<g id="n8_954"><rect class="ir" x="301" y="954" width="24" height="12"/></g>
<g id="n8_973"><rect class="ir" x="301" y="973" width="24" height="12"/></g>
<g id="n8_1223"><rect class="kh" x="301" y="1223" width="24" height="12"/></g>
<g id="n8_1243"><rect class="kh" x="301" y="1243" width="24" height="12"/></g>
<g id="n8_1288"><rect class="ly" x="301" y="1288" width="24" height="12"/></g>
<g id="n8_1307"><rect class="ds2" x="301" y="1307" width="24" height="12"/></g>
<g id="n8_1327"><rect class="slg" x="301" y="1327" width="24" height="12"/></g>
<g id="n8_1345"><rect class="wh" x="301" y="1345" width="24" height="12"/></g>
<g id="n8_1364"><rect class="dgy" x="301" y="1364" width="24" height="12"/></g>
<g id="n8_1422"><rect class="sb" x="301" y="1422" width="24" height="12"/></g>
<g id="n8_1471"><rect class="ye" x="301" y="1471" width="24" height="12"/></g>
<g id="n8_1508"><rect class="ye" x="301" y="1508" width="24" height="12"/></g>
<g id="n8_1545"><rect class="slg" x="301" y="1545" width="24" height="12"/></g>
<g id="n8_1605"><rect class="ma" x="301" y="1605" width="24" height="12"/></g>
<g id="n8_1624"><rect class="dv" x="301" y="1624" width="24" height="12"/></g>
<g id="n8_1643"><rect class="wh" x="301" y="1643" width="24" height="12"/></g>
<g id="n8_1663"><rect class="cb" x="301" y="1663" width="24" height="12"/></g>
<g id="n8_1682"><rect class="dsg" x="301" y="1682" width="24" height="12"/></g>
<g id="n9_261"><rect class="cb" x="338" y="261" width="24" height="12"/></g>
<g id="n9_280"><rect class="gyl" x="338" y="280" width="24" height="12"/></g>
<g id="n9_299"><rect class="cb" x="338" y="299" width="24" height="12"/></g>
<g id="n9_318"><rect class="dv" x="338" y="318" width="24" height="12"/></g>
<g id="n9_338"><rect class="gy" x="338" y="338" width="24" height="12"/></g>
<g id="n9_357"><rect class="ln" x="338" y="357" width="24" height="12"/></g>
<g id="n9_377"><rect class="kh" x="338" y="377" width="24" height="12"/></g>
<g id="n9_396"><rect class="kh" x="338" y="396" width="24" height="12"/></g>
<g id="n9_416"><rect class="lbl" x="338" y="416" width="24" height="12"/></g>
<g id="n9_435"><rect class="or" x="338" y="435" width="24" height="12"/></g>
<g id="n9_455"><rect class="or" x="338" y="455" width="24" height="12"/></g>
<g id="n9_474"><rect class="dp" x="338" y="474" width="24" height="12"/></g>
<g id="n9_493"><rect class="ls" x="338" y="493" width="24" height="12"/></g>
<g id="n9_513"><rect class="ls" x="338" y="513" width="24" height="12"/></g>
<g id="n9_594"><rect class="lco" x="338" y="594" width="24" height="12"/></g>
<g id="n9_613"><rect class="lco" x="338" y="613" width="24" height="12"/></g>
<g id="n9_633"><rect class="lco" x="338" y="633" width="24" height="12"/></g>
<g id="n9_718"><rect class="lb" x="338" y="718" width="24" height="12"/></g>
<g id="n9_808"><rect class="lv" x="338" y="808" width="24" height="12"/></g>
<g id="n9_851"><rect class="lgn" x="338" y="851" width="24" height="12"/></g>
<g id="n9_880"><rect class="lv" x="338" y="880" width="24" height="12"/></g>
<g id="n9_908"><rect class="ir" x="338" y="908" width="24" height="12"/></g>
<g id="n9_954"><rect class="ir" x="338" y="954" width="24" height="12"/></g>
<g id="n9_973"><rect class="lv" x="338" y="973" width="24" height="12"/></g>
<g id="n9_1288"><rect class="ly" x="338" y="1288" width="24" height="12"/></g>
<g id="n9_1326"><rect class="slg" x="338" y="1326" width="24" height="12"/></g>
<g id="n9_1345"><rect class="wh" x="338" y="1345" width="24" height="12"/></g>
<g id="n9_1364"><rect class="wh" x="338" y="1364" width="24" height="12"/></g>
<g id="n9_1383"><rect class="dgy" x="338" y="1383" width="24" height="12"/></g>
<g id="n9_1403"><rect class="lsb" x="338" y="1403" width="24" height="12"/></g>
<g id="n9_1422"><rect class="or" x="338" y="1422" width="24" height="12"/></g>
<g id="n9_1442"><rect class="lg" x="338" y="1442" width="24" height="12"/></g>
<g id="n9_1461"><rect class="sb" x="338" y="1461" width="24" height="12"/></g>
<g id="n9_1488"><rect class="yg" x="338" y="1488" width="24" height="12"/></g>
<g id="n9_1527"><rect class="wh" x="338" y="1527" width="24" height="12"/></g>
<g id="n9_1605"><rect class="mo" x="338" y="1605" width="24" height="12"/></g>
<g id="n9_1624"><rect class="wh" x="338" y="1624" width="24" height="12"/></g>
<g id="n9_1666"><rect class="dsg" x="338" y="1666" width="24" height="12"/></g>
<g id="n10_271"><rect class="gyl" x="375" y="271" width="24" height="12"/></g>
<g id="n10_290"><rect class="gyl" x="375" y="290" width="24" height="12"/></g>
<g id="n10_387"><rect class="dv" x="375" y="387" width="24" height="12"/></g>
<g id="n10_406"><rect class="ln" x="375" y="406" width="24" height="12"/></g>
<g id="n10_425"><rect class="kh" x="375" y="425" width="24" height="12"/></g>
<g id="n10_445"><rect class="lbl" x="375" y="445" width="24" height="12"/></g>
<g id="n10_464"><rect class="or" x="375" y="464" width="24" height="12"/></g>
<g id="n10_851"><rect class="lgn" x="375" y="851" width="24" height="12"/></g>
<g id="n10_880"><rect class="wh" x="375" y="880" width="24" height="12"/></g>
<g id="n10_908"><rect class="ir" x="375" y="908" width="24" height="12"/></g>
<g id="n10_990"><rect class="ly" x="375" y="990" width="24" height="12"/></g>
<g id="n10_1288"><rect class="ly" x="375" y="1288" width="24" height="12"/></g>
<g id="n10_1326"><rect class="slg" x="375" y="1326" width="24" height="12"/></g>
<g id="n10_1374"><rect class="dgy" x="375" y="1374" width="24" height="12"/></g>
<g id="n10_1393"><rect class="dgy" x="375" y="1393" width="24" height="12"/></g>
<g id="n10_1422"><rect class="sb" x="375" y="1422" width="24" height="12"/></g>
<g id="n10_1450"><rect class="yg" x="375" y="1450" width="24" height="12"/></g>
<g id="n10_1469"><rect class="vi" x="375" y="1469" width="24" height="12"/></g>
<g id="n10_1488"><rect class="ye" x="375" y="1488" width="24" height="12"/></g>
<g id="n10_1527"><rect class="wh" x="375" y="1527" width="24" height="12"/></g>
<g id="n10_1605"><rect class="mo" x="375" y="1605" width="24" height="12"/></g>
<g id="n10_1633"><rect class="wh" x="375" y="1633" width="24" height="12"/></g>
<g id="n10_1652"><rect class="cb" x="375" y="1652" width="24" height="12"/></g>
<g id="n11_263"><rect class="gn" x="411" y="263" width="24" height="12"/></g>
<g id="n11_281"><rect class="wh" x="411" y="281" width="24" height="12"/></g>
<g id="n11_358"><rect class="gn" x="411" y="358" width="24" height="12"/></g>
<g id="n11_377"><rect class="tl" x="411" y="377" width="24" height="12"/></g>
<g id="n11_406"><rect class="ln" x="411" y="406" width="24" height="12"/></g>
<g id="n11_445"><rect class="lbl" x="411" y="445" width="24" height="12"/></g>
<g id="n11_535"><rect class="dp" x="411" y="535" width="24" height="12"/></g>
<g id="n11_728"><rect class="dor" x="411" y="728" width="24" height="12"/></g>
<g id="n11_1288"><rect class="ly" x="411" y="1288" width="24" height="12"/></g>
<g id="n11_1326"><rect class="slg" x="411" y="1326" width="24" height="12"/></g>
<g id="n11_1346"><rect class="dgy" x="411" y="1346" width="24" height="12"/></g>
<g id="n11_1374"><rect class="dgy" x="411" y="1374" width="24" height="12"/></g>
<g id="n11_1393"><rect class="tom" x="411" y="1393" width="24" height="12"/></g>
<g id="n11_1412"><rect class="tn" x="411" y="1412" width="24" height="12"/></g>
<g id="n11_1431"><rect class="wh" x="411" y="1431" width="24" height="12"/></g>
<g id="n11_1450"><rect class="th" x="411" y="1450" width="24" height="12"/></g>
<g id="n11_1469"><rect class="yg" x="411" y="1469" width="24" height="12"/></g>
<g id="n11_1527"><rect class="wh" x="411" y="1527" width="24" height="12"/></g>
<g id="n11_1567"><rect class="wh" x="411" y="1567" width="24" height="12"/></g>
<g id="n11_1603"><rect class="wh" x="411" y="1603" width="24" height="12"/></g>
<g id="n11_1622"><rect class="wh" x="411" y="1622" width="24" height="12"/></g>
<g id="n11_1641"><rect class="wh" x="411" y="1641" width="24" height="12"/></g>
<g id="n11_1660"><rect class="wh" x="411" y="1660" width="24" height="12"/></g>
<g id="n12_251"><rect class="gn" x="448" y="251" width="24" height="12"/></g>
<g id="n12_270"><rect class="wh" x="448" y="270" width="24" height="12"/></g>
<g id="n12_290"><rect class="wh" x="448" y="290" width="24" height="12"/></g>
<g id="n12_319"><rect class="gn" x="448" y="319" width="24" height="12"/></g>
<g id="n12_338"><rect class="wh" x="448" y="338" width="24" height="12"/></g>
<g id="n12_358"><rect class="tl" x="448" y="358" width="24" height="12"/></g>
<g id="n12_377"><rect class="orr" x="448" y="377" width="24" height="12"/></g>
<g id="n12_406"><rect class="ln" x="448" y="406" width="24" height="12"/></g>
<g id="n12_604"><rect class="dgr" x="448" y="604" width="24" height="12"/></g>
<g id="n12_623"><rect class="dgr" x="448" y="623" width="24" height="12"/></g>
<g id="n12_728"><rect class="orr" x="448" y="728" width="24" height="12"/></g>
<g id="n12_1288"><rect class="ly" x="448" y="1288" width="24" height="12"/></g>
<g id="n12_1307"><rect class="slg" x="448" y="1307" width="24" height="12"/></g>
<g id="n12_1335"><rect class="wh" x="448" y="1335" width="24" height="12"/></g>
<g id="n12_1354"><rect class="wt" x="448" y="1354" width="24" height="12"/></g>
<g id="n12_1374"><rect class="dgy" x="448" y="1374" width="24" height="12"/></g>
<g id="n12_1412"><rect class="tn" x="448" y="1412" width="24" height="12"/></g>
<g id="n12_1450"><rect class="th" x="448" y="1450" width="24" height="12"/></g>
<g id="n12_1469"><rect class="yg" x="448" y="1469" width="24" height="12"/></g>
<g id="n12_1517"><rect class="wh" x="448" y="1517" width="24" height="12"/></g>
<g id="n12_1536"><rect class="vi" x="448" y="1536" width="24" height="12"/></g>
<g id="n13_252"><rect class="dv" x="485" y="252" width="24" height="12"/></g>
<g id="n13_271"><rect class="wh" x="485" y="271" width="24" height="12"/></g>
<g id="n13_290"><rect class="gn" x="485" y="290" width="24" height="12"/></g>
<g id="n13_309"><rect class="dt" x="485" y="309" width="24" height="12"/></g>
<g id="n13_328"><rect class="wh" x="485" y="328" width="24" height="12"/></g>
<g id="n13_348"><rect class="tl" x="485" y="348" width="24" height="12"/></g>
<g id="n13_578"><rect class="cf" x="485" y="578" width="24" height="12"/></g>
<g id="n13_598"><rect class="cf" x="485" y="598" width="24" height="12"/></g>
<g id="n13_618"><rect class="dgr" x="485" y="618" width="24" height="12"/></g>
<g id="n13_636"><rect class="dor" x="485" y="636" width="24" height="12"/></g>
<g id="n13_1281"><rect class="ly" x="485" y="1281" width="24" height="12"/></g>
<g id="n13_1299"><rect class="skb" x="485" y="1299" width="24" height="12"/></g>
<g id="n13_1319"><rect class="dgy" x="485" y="1319" width="24" height="12"/></g>
<g id="n13_1338"><rect class="wh" x="485" y="1338" width="24" height="12"/></g>
<g id="n13_1358"><rect class="wt" x="485" y="1358" width="24" height="12"/></g>
<g id="n13_1412"><rect class="tn" x="485" y="1412" width="24" height="12"/></g>
<g id="n13_1450"><rect class="th" x="485" y="1450" width="24" height="12"/></g>
<g id="n13_1469"><rect class="yg" x="485" y="1469" width="24" height="12"/></g>
<g id="n13_1518"><rect class="wh" x="485" y="1518" width="24" height="12"/></g>
<g id="n13_1536"><rect class="spg" x="485" y="1536" width="24" height="12"/></g>
<g id="n14_248"><rect class="gn" x="522" y="248" width="24" height="12"/></g>
<g id="n14_271"><rect class="gn" x="522" y="271" width="24" height="12"/></g>
<g id="n14_290"><rect class="dt" x="522" y="290" width="24" height="12"/></g>
<g id="n14_309"><rect class="dt" x="522" y="309" width="24" height="12"/></g>
<g id="n14_328"><rect class="tl" x="522" y="328" width="24" height="12"/></g>
<g id="n14_348"><rect class="cf" x="522" y="348" width="24" height="12"/></g>
<g id="n14_598"><rect class="cf" x="522" y="598" width="24" height="12"/></g>
<g id="n14_618"><rect class="dgr" x="522" y="618" width="24" height="12"/></g>
<g id="n14_636"><rect class="dgy" x="522" y="636" width="24" height="12"/></g>
<g id="n14_656"><rect class="dkh" x="522" y="656" width="24" height="12"/></g>
<g id="n14_1281"><rect class="ly" x="522" y="1281" width="24" height="12"/></g>
<g id="n14_1358"><rect class="wt" x="522" y="1358" width="24" height="12"/></g>
<g id="n14_1412"><rect class="tn" x="522" y="1412" width="24" height="12"/></g>
<g id="n14_1450"><rect class="th" x="522" y="1450" width="24" height="12"/></g>
<g id="n14_1469"><rect class="yg" x="522" y="1469" width="24" height="12"/></g>
<g id="n14_1488"><rect class="wh" x="522" y="1488" width="24" height="12"/></g>
<g id="n14_1508"><rect class="wh" x="522" y="1508" width="24" height="12"/></g>
<g id="n14_1527"><rect class="wh" x="522" y="1527" width="24" height="12"/></g>
<g id="n14_1546"><rect class="wh" x="522" y="1546" width="24" height="12"/></g>
<g id="n14_1565"><rect class="dgy" x="522" y="1565" width="24" height="12"/></g>
<g id="n14_1585"><rect class="lsb" x="522" y="1585" width="24" height="12"/></g>
<g id="n14_1604"><rect class="lsb" x="522" y="1604" width="24" height="12"/></g>
<g id="n15_259"><rect class="tn" x="558" y="259" width="24" height="12"/></g>
<g id="n15_332"><rect class="tl" x="558" y="332" width="24" height="12"/></g>
<g id="n15_351"><rect class="cf" x="558" y="351" width="24" height="12"/></g>
<g id="n15_513"><rect class="cf" x="558" y="513" width="24" height="12"/></g>
<g id="n15_604"><rect class="cf" x="558" y="604" width="24" height="12"/></g>
<g id="n15_636"><rect class="dgy" x="558" y="636" width="24" height="12"/></g>
<g id="n15_656"><rect class="dor" x="558" y="656" width="24" height="12"/></g>
<g id="n15_675"><rect class="dkh" x="558" y="675" width="24" height="12"/></g>
<g id="n15_1358"><rect class="wt" x="558" y="1358" width="24" height="12"/></g>
<g id="n15_1412"><rect class="tn" x="558" y="1412" width="24" height="12"/></g>
<g id="n15_1450"><rect class="th" x="558" y="1450" width="24" height="12"/></g>
<g id="n15_1469"><rect class="yg" x="558" y="1469" width="24" height="12"/></g>
<g id="n15_1546"><rect class="wh" x="558" y="1546" width="24" height="12"/></g>
<g id="n15_1585"><rect class="spg" x="558" y="1585" width="24" height="12"/></g>
<g id="n16_299"><rect class="dt" x="595" y="299" width="24" height="12"/></g>
<g id="n16_513"><rect class="cf" x="595" y="513" width="24" height="12"/></g>
<g id="n16_656"><rect class="dor" x="595" y="656" width="24" height="12"/></g>
<g id="n16_1358"><rect class="wt" x="595" y="1358" width="24" height="12"/></g>
<g id="n16_1412"><rect class="tn" x="595" y="1412" width="24" height="12"/></g>
<g id="n16_1469"><rect class="yg" x="595" y="1469" width="24" height="12"/></g>
<g id="n16_1546"><rect class="wh" x="595" y="1546" width="24" height="12"/></g>
<g id="n16_1585"><rect class="spg" x="595" y="1585" width="24" height="12"/></g>
<g id="n17_651"><rect class="cy" x="632" y="651" width="24" height="12"/></g>
<g id="n17_946"><rect class="lg" x="632" y="946" width="24" height="12"/></g>
<g id="n17_1469"><rect class="yg" x="632" y="1469" width="24" height="12"/></g>
<g id="n17_1540"><rect class="yg" x="632" y="1540" width="24" height="12"/></g>
<g id="n18_286"><rect class="dv" x="669" y="286" width="24" height="12"/></g>
<g id="n18_305"><rect class="dv" x="669" y="305" width="24" height="12"/></g>
<g id="n18_481"><rect class="lg" x="669" y="481" width="24" height="12"/></g>
<g id="n18_1480"><rect class="yg" x="669" y="1480" width="24" height="12"/></g>
<g id="n18_1511"><rect class="wh" x="669" y="1511" width="24" height="12"/></g>
<g id="n18_1530"><rect class="wh" x="669" y="1530" width="24" height="12"/></g>
<g id="n18_1549"><rect class="wh" x="669" y="1549" width="24" height="12"/></g>
<g id="n18_1568"><rect class="wh" x="669" y="1568" width="24" height="12"/></g>
<g id="n19_357"><rect class="lg" x="705" y="357" width="24" height="12"/></g>
<g id="n19_577"><rect class="lg" x="705" y="577" width="24" height="12"/></g>
<g id="n19_1447"><rect class="yg" x="705" y="1447" width="24" height="12"/></g>
<g id="n19_1508"><rect class="yg" x="705" y="1508" width="24" height="12"/></g>
<g id="n19_1549"><rect class="wh" x="705" y="1549" width="24" height="12"/></g>
<g id="n20_1393"><rect class="yg" x="742" y="1393" width="24" height="12"/></g>
<g id="n20_1413"><rect class="yg" x="742" y="1413" width="24" height="12"/></g>
<g id="n20_1432"><rect class="yg" x="742" y="1432" width="24" height="12"/></g>
<g id="n20_1451"><rect class="yg" x="742" y="1451" width="24" height="12"/></g>
<g id="n20_1470"><rect class="yg" x="742" y="1470" width="24" height="12"/></g>
<g id="n20_1489"><rect class="msb" x="742" y="1489" width="24" height="12"/></g>
<g id="n20_1508"><rect class="yg" x="742" y="1508" width="24" height="12"/></g>
<g id="n20_1549"><rect class="wh" x="742" y="1549" width="24" height="12"/></g>
<g id="n21_1413"><rect class="yg" x="779" y="1413" width="24" height="12"/></g>
<g id="n21_1432"><rect class="yg" x="779" y="1432" width="24" height="12"/></g>
<g id="n21_1451"><rect class="yg" x="779" y="1451" width="24" height="12"/></g>
<g id="n21_1489"><rect class="msb" x="779" y="1489" width="24" height="12"/></g>
<g id="n21_1549"><rect class="wh" x="779" y="1549" width="24" height="12"/></g>
<g id="n22_1489"><rect class="msb" x="816" y="1489" width="24" height="12"/></g>
<g id="n23_1489"><rect class="msb" x="852" y="1489" width="24" height="12"/></g>
<g id="n24_1489"><rect class="msb" x="889" y="1489" width="24" height="12"/></g>
<g id="n25_1489"><rect class="msb" x="926" y="1489" width="24" height="12"/></g>
<g id="n26_1489"><rect class="msb" x="963" y="1489" width="24" height="12"/></g>
</g>
<g id="badges">
<circle class="d" cx="178" cy="130" r="1.8"/><circle class="d" cx="215" cy="120" r="1.8"/><circle class="d" cx="251" cy="86" r="1.8"/><circle class="d" cx="287" cy="86" r="1.8"/><circle class="d" cx="287" cy="115" r="1.8"/><circle class="d" cx="251" cy="144" r="1.8"/><circle class="d" cx="251" cy="214" r="1.8"/><circle class="d" cx="302" cy="330" r="1.8"/><circle class="d" cx="324" cy="330" r="1.8"/><circle class="d" cx="104" cy="422" r="1.8"/><circle class="d" cx="104" cy="438" r="1.8"/><circle class="d" cx="229" cy="464" r="1.8"/><circle class="d" cx="229" cy="506" r="1.8"/><circle class="d" cx="118" cy="573" r="1.8"/><circle class="d" cx="155" cy="618" r="1.8"/><circle class="d" cx="265" cy="649" r="1.8"/><circle class="d" cx="251" cy="720" r="1.8"/><circle class="d" cx="251" cy="758" r="1.8"/><circle class="d" cx="140" cy="919" r="1.8"/><circle class="d" cx="214" cy="1090" r="1.8"/><circle class="d" cx="251" cy="1110" r="1.8"/><circle class="d" cx="251" cy="1129" r="1.8"/><circle class="d" cx="214" cy="1148" r="1.8"/><circle class="d" cx="104" cy="1256" r="1.8"/><circle class="d" cx="140" cy="1314" r="1.8"/><circle class="d" cx="140" cy="1390" r="1.8"/><circle class="d" cx="155" cy="1451" r="1.8"/><circle class="d" cx="214" cy="1451" r="1.8"/><circle class="d" cx="214" cy="1529" r="1.8"/><circle class="d" cx="82" cy="1731" r="1.8"/><circle class="d" cx="104" cy="1731" r="1.8"/><circle class="d" cx="302" cy="1693" r="1.8"/><circle class="d" cx="339" cy="290" r="1.8"/><circle class="d" cx="376" cy="300" r="1.8"/><circle class="d" cx="339" cy="324" r="1.8"/><circle class="d" cx="471" cy="1318" r="1.8"/><circle class="d" cx="486" cy="1330" r="1.8"/><circle class="d" cx="434" cy="1480" r="1.8"/><circle class="d" cx="486" cy="1480" r="1.8"/><circle class="d" cx="728" cy="588" r="1.8"/><circle class="d" cx="670" cy="316" r="1.8"/><circle class="d" cx="596" cy="667" r="1.8"/><circle class="d" cx="618" cy="667" r="1.8"/><circle class="d" cx="508" cy="629" r="1.8"/>
</g>
</svg>
